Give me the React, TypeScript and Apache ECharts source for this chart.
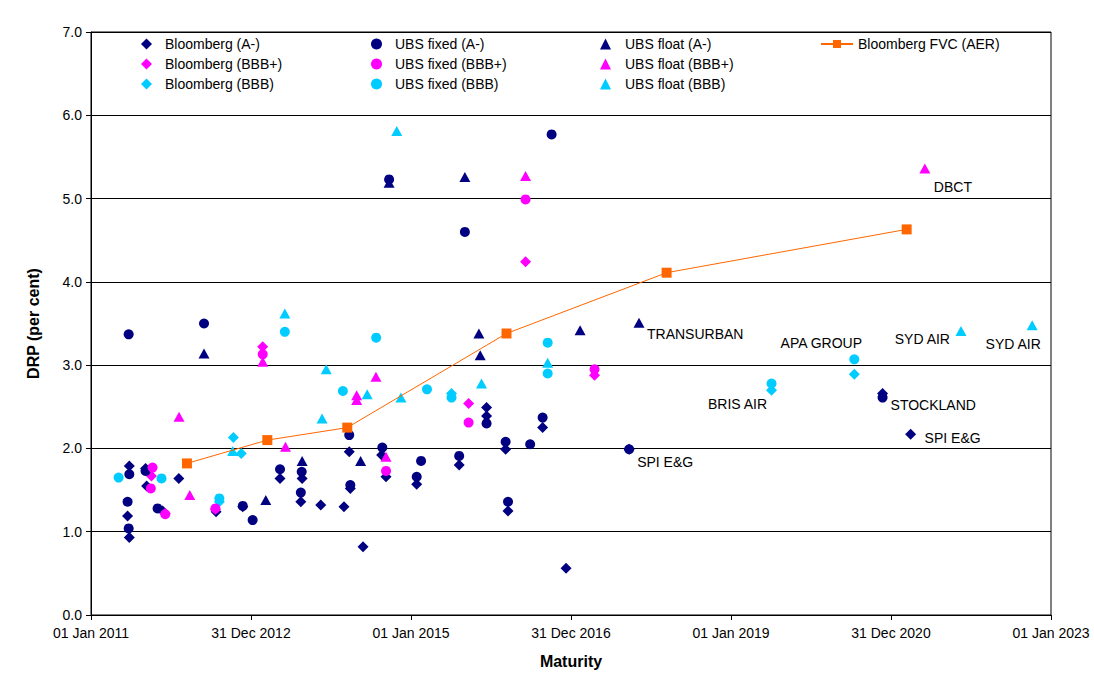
import React, { useEffect, useRef } from 'react';
import * as echarts from 'echarts';

// Tick labels of the x (maturity) axis
const xTickLabels = ['01 Jan 2011', '31 Dec 2012', '01 Jan 2015', '31 Dec 2016', '01 Jan 2019', '31 Dec 2020', '01 Jan 2023'];

type Pt = [string, number] | [string, number, string];

const bloombergA: Pt[] = [
  ['2011-06-25', 1.79], ['2011-06-17', 1.19], ['2011-06-25', 0.93], ['2011-09-12', 1.55], ['2011-09-07', 1.76],
  ['2011-11-24', 1.25], ['2012-02-06', 1.64], ['2012-07-25', 1.24], ['2012-11-24', 1.30], ['2013-05-13', 1.64],
  ['2013-08-22', 1.64], ['2013-08-16', 1.36], ['2013-11-15', 1.32], ['2014-03-01', 1.30], ['2014-03-25', 1.96],
  ['2014-03-30', 1.52], ['2014-05-27', 0.82], ['2014-08-20', 1.92], ['2014-09-09', 1.66], ['2015-01-27', 1.57],
  ['2015-08-09', 1.80], ['2015-12-12', 2.49], ['2015-12-12', 2.39], ['2016-03-19', 1.25], ['2016-03-08', 1.99],
  ['2016-08-24', 2.25], ['2016-12-09', 0.56], ['2017-09-23', 1.99], ['2020-11-23', 2.66], ['2021-03-31', 2.17, 'SPI E&G'],
];
const bloombergBBBp: Pt[] = [
  ['2011-10-04', 1.67], ['2011-12-06', 1.22], ['2012-07-22', 1.27], ['2013-02-23', 3.22],
  ['2015-09-21', 2.54], ['2016-06-07', 4.24], ['2017-04-18', 2.88],
];
const bloombergBBB: Pt[] = [
  ['2012-10-12', 2.13], ['2012-11-17', 1.94], ['2012-08-09', 1.36], ['2015-07-05', 2.66],
  ['2019-07-05', 2.70, 'BRIS AIR'], ['2020-07-17', 2.89],
];
const ubsFixedA: Pt[] = [
  ['2011-06-22', 3.37], ['2011-06-25', 1.69], ['2011-06-17', 1.36], ['2011-06-22', 1.04], ['2011-09-07', 1.73],
  ['2011-11-01', 1.28], ['2012-05-31', 3.50], ['2012-11-24', 1.31], ['2013-01-08', 1.14], ['2013-05-13', 1.75],
  ['2013-08-20', 1.72], ['2013-08-16', 1.47], ['2014-03-25', 2.16], ['2014-03-30', 1.56], ['2014-08-23', 2.01],
  ['2014-09-23', 5.23], ['2015-02-16', 1.85], ['2015-01-27', 1.66], ['2015-08-09', 1.91], ['2015-09-04', 4.60],
  ['2015-12-12', 2.30], ['2016-03-08', 2.08], ['2016-03-19', 1.36], ['2016-06-28', 2.05], ['2016-08-24', 2.37],
  ['2016-10-04', 5.77], ['2017-09-23', 1.99, 'SPI E&G'], ['2020-11-23', 2.61, 'STOCKLAND'],
];
const ubsFixedBBBp: Pt[] = [
  ['2011-10-09', 1.77], ['2011-10-01', 1.52], ['2011-12-06', 1.21], ['2012-07-22', 1.28], ['2013-02-23', 3.13],
  ['2014-09-09', 1.73], ['2015-09-21', 2.31], ['2016-06-07', 4.99], ['2017-04-18', 2.95],
];
const ubsFixedBBB: Pt[] = [
  ['2011-05-07', 1.65], ['2011-11-19', 1.64], ['2012-08-09', 1.40], ['2013-06-04', 3.40], ['2014-02-24', 2.69],
  ['2014-07-26', 3.33], ['2015-03-15', 2.71], ['2015-07-05', 2.61], ['2016-09-16', 3.27], ['2016-09-16', 2.90],
  ['2019-07-05', 2.78], ['2020-07-17', 3.07, 'APA GROUP'],
];
const ubsFloatA: Pt[] = [
  ['2012-05-31', 3.14], ['2013-03-09', 1.38], ['2013-08-22', 1.85], ['2014-05-16', 1.85], ['2014-09-23', 5.19],
  ['2015-09-04', 5.26], ['2015-11-07', 3.38], ['2015-11-13', 3.12], ['2017-02-11', 3.42], ['2017-11-07', 3.51, 'TRANSURBAN'],
];
const ubsFloatBBBp: Pt[] = [
  ['2012-02-07', 2.38], ['2012-03-27', 1.44], ['2013-02-23', 3.04], ['2013-06-07', 2.02], ['2014-04-28', 2.64],
  ['2014-04-28', 2.58], ['2014-07-25', 2.86], ['2014-09-09', 1.90], ['2016-06-07', 5.27], ['2021-06-04', 5.36, 'DBCT'],
];
const ubsFloatBBB: Pt[] = [
  ['2012-10-09', 1.97], ['2013-06-04', 3.62], ['2013-11-21', 2.36], ['2013-12-10', 2.95], ['2014-06-15', 2.65],
  ['2014-10-28', 5.81], ['2014-11-16', 2.61], ['2015-11-19', 2.78], ['2016-09-16', 3.03],
  ['2021-11-16', 3.41, 'SYD AIR'], ['2022-10-07', 3.48, 'SYD AIR'],
];
const bloombergFVC: Pt[] = [
  ['2012-03-14', 1.82], ['2013-03-16', 2.10], ['2014-03-16', 2.25], ['2016-03-12', 3.38], ['2018-03-13', 4.11], ['2021-03-13', 4.63],
];

// Label placement (style only), keyed by point date
const labelPlacement: Record<string, { align: string; offset: [number, number] }> = {
  '2021-06-04': { align: 'left', offset: [9, 18] },
  '2017-11-07': { align: 'left', offset: [8, 11] },
  '2020-07-17': { align: 'center', offset: [-33, -16] },
  '2021-11-16': { align: 'right', offset: [-11, 8] },
  '2022-10-07': { align: 'center', offset: [-19, 19] },
  '2019-07-05': { align: 'center', offset: [-34, 14] },
  '2020-11-23': { align: 'left', offset: [8, 7] },
  '2021-03-31': { align: 'left', offset: [14, 4] },
  '2017-09-23': { align: 'left', offset: [8, 13] },
};

const FONT = '"Liberation Sans", Arial, sans-serif';
const NAVY = '#000080';
const MAGENTA = '#FF00FF';
const CYAN = '#00CCFF';
const ORANGE = '#FF6600';
const ORIGIN = Date.UTC(2011, 0, 1);
const X_MAX = (Date.UTC(2023, 0, 1) - ORIGIN) / 86400000;
const X_INTERVAL = X_MAX / 6;

const toDay = (s: string) => (Date.parse(s + 'T00:00:00Z') - ORIGIN) / 86400000;

function toData(pts: Pt[]) {
  return pts.map((p) => {
    const v = [toDay(p[0]), p[1]];
    if (p.length === 3) {
      const pl = labelPlacement[p[0]];
      return {
        value: v,
        label: {
          show: true,
          formatter: p[2],
          position: 'inside',
          align: pl.align,
          verticalAlign: 'middle',
          offset: pl.offset,
          color: '#000',
          fontSize: 14,
          fontFamily: FONT,
        },
      };
    }
    return v;
  });
}

function scatter(name: string, pts: Pt[], symbol: string, size: number | number[], color: string) {
  return {
    type: 'scatter',
    name,
    symbol,
    symbolSize: size,
    itemStyle: { color, opacity: 1 },
    data: toData(pts),
    silent: true,
  };
}

export default function App() {
  const ref = useRef<HTMLDivElement>(null);
  useEffect(() => {
    if (!ref.current) return;
    const chart = echarts.init(ref.current, null, { renderer: 'svg' });
    const legendText = { fontSize: 14, lineHeight: 14, color: '#000', fontFamily: FONT };
    const legendBase = {
      orient: 'vertical',
      itemWidth: 11,
      itemHeight: 11,
      itemGap: 6,
      padding: 0,
      selectedMode: false,
      top: 37,
    };
    chart.setOption({
      animation: false,
      backgroundColor: '#fff',
      textStyle: { fontFamily: FONT },
      grid: { left: 91, right: 43, top: 32, bottom: 59, show: true, borderColor: '#000', borderWidth: 1 },
      legend: [
        { ...legendBase, left: 141, textStyle: { ...legendText, padding: [0, 0, 0, 8] }, data: ['Bloomberg (A-)', 'Bloomberg (BBB+)', 'Bloomberg (BBB)'] },
        { ...legendBase, left: 371, textStyle: { ...legendText, padding: [0, 0, 0, 8] }, data: ['UBS fixed (A-)', 'UBS fixed (BBB+)', 'UBS fixed (BBB)'] },
        { ...legendBase, left: 600, textStyle: { ...legendText, padding: [0, 0, 0, 9] }, data: ['UBS float (A-)', 'UBS float (BBB+)', 'UBS float (BBB)'] },
        { ...legendBase, left: 820, itemWidth: 32, itemHeight: 10, textStyle: legendText, data: ['Bloomberg FVC (AER)'] },
      ],
      xAxis: {
        type: 'value',
        min: 0,
        max: X_MAX,
        interval: X_INTERVAL,
        name: 'Maturity',
        nameLocation: 'middle',
        nameGap: 38,
        nameTextStyle: { fontSize: 16, fontWeight: 'bold', color: '#000', fontFamily: FONT },
        axisLine: { lineStyle: { color: '#000', width: 1 } },
        axisTick: { show: true, length: 5, lineStyle: { color: '#000' } },
        axisLabel: {
          color: '#000',
          fontSize: 14,
          margin: 11,
          fontFamily: FONT,
          formatter: (v: number) => xTickLabels[Math.round(v / X_INTERVAL)] ?? '',
        },
        splitLine: { show: false },
      },
      yAxis: {
        type: 'value',
        min: 0,
        max: 7,
        interval: 1,
        name: 'DRP (per cent)',
        nameLocation: 'middle',
        nameGap: 50,
        nameTextStyle: { fontSize: 16, fontWeight: 'bold', color: '#000', fontFamily: FONT },
        axisLine: { show: true, lineStyle: { color: '#000', width: 1 } },
        axisTick: { show: true, length: 5, lineStyle: { color: '#000' } },
        axisLabel: { color: '#000', fontSize: 14, margin: 9, fontFamily: FONT, formatter: (v: number) => v.toFixed(1) },
        splitLine: { show: true, lineStyle: { color: '#000', width: 1 } },
      },
      series: [
        scatter('Bloomberg (A-)', bloombergA, 'diamond', 11, NAVY),
        scatter('Bloomberg (BBB+)', bloombergBBBp, 'diamond', 11, MAGENTA),
        scatter('Bloomberg (BBB)', bloombergBBB, 'diamond', 11, CYAN),
        scatter('UBS fixed (A-)', ubsFixedA, 'circle', 10, NAVY),
        scatter('UBS fixed (BBB+)', ubsFixedBBBp, 'circle', 10, MAGENTA),
        scatter('UBS fixed (BBB)', ubsFixedBBB, 'circle', 10, CYAN),
        scatter('UBS float (A-)', ubsFloatA, 'triangle', [11, 10], NAVY),
        scatter('UBS float (BBB+)', ubsFloatBBBp, 'triangle', [11, 10], MAGENTA),
        scatter('UBS float (BBB)', ubsFloatBBB, 'triangle', [11, 10], CYAN),
        {
          type: 'line',
          name: 'Bloomberg FVC (AER)',
          symbol: 'rect',
          symbolSize: 10,
          showAllSymbol: true,
          itemStyle: { color: ORANGE },
          lineStyle: { color: ORANGE, width: 1 },
          data: toData(bloombergFVC),
          silent: true,
          z: 5,
        },
      ],
    });
    return () => chart.dispose();
  }, []);
  return <div ref={ref} style={{ width: 1094, height: 674, position: 'absolute', left: 0, top: 0 }} />;
}
